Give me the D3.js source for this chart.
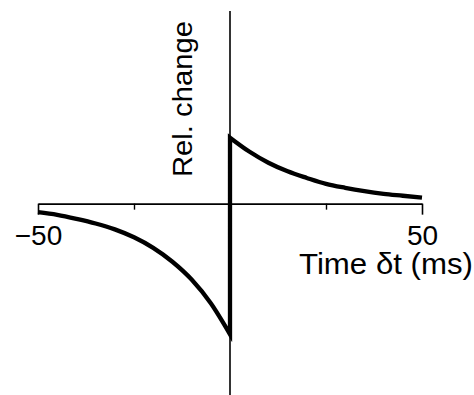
<!DOCTYPE html>
<html>
<head>
<meta charset="utf-8">
<script src="https://cdn.jsdelivr.net/npm/d3@7/dist/d3.min.js"></script>
<style>
  html, body { margin: 0; padding: 0; background: #fff; }
  svg { display: block; font-family: "Liberation Sans", Arial, Helvetica, sans-serif; }
</style>
</head>
<body>
<svg id="chart" width="474" height="395"></svg>
<script>
// Spike-timing window: relative weight change vs. spike time difference
const dtPre  = [-50, -45, -40, -35, -30, -25, -20, -15, -10, -5, 0];
const dwPre  = [-0.13, -0.17, -0.23, -0.30, -0.39, -0.51, -0.67, -0.88, -1.15, -1.51, -1.98];
const dtPost = [0, 5, 10, 15, 20, 25, 30, 35, 40, 45, 50];
const dwPost = [1.00, 0.79, 0.62, 0.49, 0.39, 0.30, 0.24, 0.19, 0.15, 0.12, 0.09];

const majorTicks = [-50, 50];
const minorTicks = [-25, 25];
const xLabel = "Time δt (ms)";
const yLabel = "Rel. change";

const svg = d3.select("#chart");

const x = d3.scaleLinear().domain([-50, 50]).range([38, 422]);
const y = d3.scaleLinear().domain([-2.9, 2.92]).range([395, 11]);

// horizontal axis with long end ticks and short inner ticks
const gx = svg.append("g").attr("transform", `translate(0,${y(0)})`);
gx.call(d3.axisBottom(x).tickValues(majorTicks).tickSize(11).tickSizeOuter(0)
        .tickPadding(10).tickFormat(d => d < 0 ? "\u2212" + Math.abs(d) : d));
gx.select(".domain").attr("stroke", "#000").attr("stroke-width", 1.6);
gx.selectAll(".tick line").attr("stroke", "#000").attr("stroke-width", 1.6);
gx.selectAll(".tick text").attr("font-size", 28).attr("fill", "#000")
  .attr("font-family", "Liberation Sans, Arial, sans-serif");

const gxm = svg.append("g").attr("transform", `translate(0,${y(0)})`);
gxm.call(d3.axisBottom(x).tickValues(minorTicks).tickSize(6).tickSizeOuter(0).tickFormat(""));
gxm.select(".domain").remove();
gxm.selectAll(".tick line").attr("stroke", "#000").attr("stroke-width", 1.4);

// vertical axis through dt = 0
svg.append("line")
  .attr("x1", x(0)).attr("x2", x(0))
  .attr("y1", y.range()[1]).attr("y2", y.range()[0])
  .attr("stroke", "#000").attr("stroke-width", 1.6);

// the learning window, drawn as one path with the jump at dt = 0
const pre = dtPre.map((t, i) => [t, dwPre[i]]);
const post = dtPost.map((t, i) => [t, dwPost[i]]);
const lineGen = d3.line().x(d => x(d[0])).y(d => y(d[1])).curve(d3.curveMonotoneX);
const pathD = lineGen(pre) + "L" + lineGen(post).slice(1);

svg.append("path")
  .attr("d", pathD)
  .attr("fill", "none")
  .attr("stroke", "#000")
  .attr("stroke-width", 4.3)
  .attr("stroke-linejoin", "miter");

// axis titles
svg.append("text")
  .attr("x", 473).attr("y", 274)
  .attr("text-anchor", "end")
  .attr("font-size", 29)
  .attr("textLength", 174)
  .attr("lengthAdjust", "spacingAndGlyphs")
  .text(xLabel);

svg.append("text")
  .attr("transform", "translate(192,177) rotate(-90)")
  .attr("text-anchor", "start")
  .attr("font-size", 28)
  .attr("textLength", 156)
  .attr("lengthAdjust", "spacingAndGlyphs")
  .text(yLabel);
</script>
</body>
</html>
